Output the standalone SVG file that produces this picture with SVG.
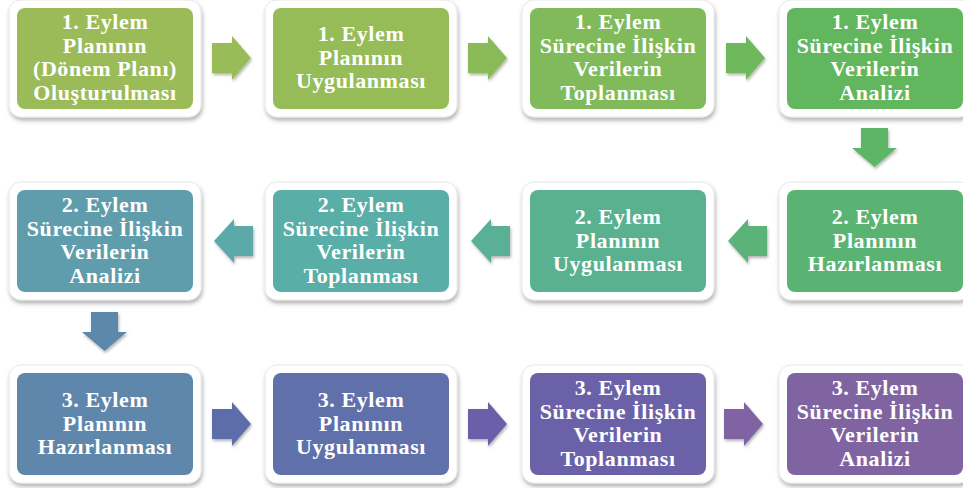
<svg xmlns="http://www.w3.org/2000/svg" width="963" height="488" viewBox="0 0 963 488">
<defs>
<filter id="sh" x="-10%" y="-10%" width="125%" height="130%">
<feDropShadow dx="1" dy="3" stdDeviation="2" flood-color="#000" flood-opacity="0.3"/>
</filter>
<filter id="ash" x="-20%" y="-20%" width="150%" height="150%">
<feDropShadow dx="1" dy="2" stdDeviation="1.5" flood-color="#000" flood-opacity="0.3"/>
</filter>
</defs>
<style>
.outer{fill:#fff;stroke:#e8e8e8;stroke-width:1;filter:url(#sh)}
.t{font-family:"Liberation Serif","Times New Roman",serif;font-weight:bold;font-size:22px;fill:#fff;text-anchor:middle;letter-spacing:0.6px}
.ar{filter:url(#ash)}
</style>
<rect width="963" height="488" fill="#fff"/>

<g id="connectors">
<path class="ar" fill="#99BB58" d="M212,43 h20 v-7 l19,22 l-19,22 v-7 h-20 z"/>
<path class="ar" fill="#8BBB58" d="M468,43 h20 v-7 l19,22 l-19,22 v-7 h-20 z"/>
<path class="ar" fill="#6EB95C" d="M726,43 h20 v-7 l19,22 l-19,22 v-7 h-20 z"/>
<path class="ar" fill="#5DB566" d="M861,128 h27 v20 h9 l-22.5,19 l-22.5,-19 h9 z"/>
<path class="ar" fill="#5BB37A" d="M767,226 h-19 v-7 l-20,22 l20,22 v-7 h19 z"/>
<path class="ar" fill="#5AB095" d="M510,226 h-19 v-7 l-20,22 l20,22 v-7 h19 z"/>
<path class="ar" fill="#5CA9AA" d="M253,226 h-19 v-7 l-20,22 l20,22 v-7 h19 z"/>
<path class="ar" fill="#5B88AB" d="M91,312 h27 v20 h9 l-22.5,19 l-22.5,-19 h9 z"/>
<path class="ar" fill="#5C6DAA" d="M212,409 h20 v-7 l19,22 l-19,22 v-7 h-20 z"/>
<path class="ar" fill="#6A5FA8" d="M468,409 h20 v-7 l19,22 l-19,22 v-7 h-20 z"/>
<path class="ar" fill="#7F64A2" d="M724,409 h20 v-7 l19,22 l-19,22 v-7 h-20 z"/>
</g>

<g id="n1"><rect class="outer" x="9" y="0" width="192" height="117" rx="12"/><rect x="17" y="8" width="176" height="101" rx="8" fill="#9BBB59"/>
<text class="t"><tspan x="105" y="29">1. Eylem</tspan><tspan x="105" y="52.5">Planının</tspan><tspan x="105" y="76">(Dönem Planı)</tspan><tspan x="105" y="99.5">Oluşturulması</tspan></text></g>

<g id="n2"><rect class="outer" x="265" y="0" width="192" height="117" rx="12"/><rect x="273" y="8" width="176" height="101" rx="8" fill="#95BC57"/>
<text class="t"><tspan x="361" y="41">1. Eylem</tspan><tspan x="361" y="64.5">Planının</tspan><tspan x="361" y="88">Uygulanması</tspan></text></g>

<g id="n3"><rect class="outer" x="522" y="0" width="192" height="117" rx="12"/><rect x="530" y="8" width="176" height="101" rx="8" fill="#80BA5A"/>
<text class="t"><tspan x="618" y="29">1. Eylem</tspan><tspan x="618" y="52.5">Sürecine İlişkin</tspan><tspan x="618" y="76">Verilerin</tspan><tspan x="618" y="99.5">Toplanması</tspan></text></g>

<g id="n4"><rect class="outer" x="779" y="0" width="192" height="117" rx="12"/><rect x="787" y="8" width="176" height="101" rx="8" fill="#62B65E"/>
<text class="t"><tspan x="875" y="29">1. Eylem</tspan><tspan x="875" y="52.5">Sürecine İlişkin</tspan><tspan x="875" y="76">Verilerin</tspan><tspan x="875" y="99.5">Analizi</tspan></text></g>

<g id="n5"><rect class="outer" x="779" y="182" width="192" height="118" rx="12"/><rect x="787" y="190" width="176" height="102" rx="8" fill="#5BB373"/>
<text class="t"><tspan x="875" y="224">2. Eylem</tspan><tspan x="875" y="247.5">Planının</tspan><tspan x="875" y="271">Hazırlanması</tspan></text></g>

<g id="n6"><rect class="outer" x="522" y="182" width="192" height="118" rx="12"/><rect x="530" y="190" width="176" height="102" rx="8" fill="#5AB190"/>
<text class="t"><tspan x="618" y="224">2. Eylem</tspan><tspan x="618" y="247.5">Planının</tspan><tspan x="618" y="271">Uygulanması</tspan></text></g>

<g id="n7"><rect class="outer" x="265" y="182" width="192" height="118" rx="12"/><rect x="273" y="190" width="176" height="102" rx="8" fill="#5AAEA8"/>
<text class="t"><tspan x="361" y="212">2. Eylem</tspan><tspan x="361" y="235.5">Sürecine İlişkin</tspan><tspan x="361" y="259">Verilerin</tspan><tspan x="361" y="282.5">Toplanması</tspan></text></g>

<g id="n8"><rect class="outer" x="9" y="182" width="192" height="118" rx="12"/><rect x="17" y="190" width="176" height="102" rx="8" fill="#5F9DAC"/>
<text class="t"><tspan x="105" y="212">2. Eylem</tspan><tspan x="105" y="235.5">Sürecine İlişkin</tspan><tspan x="105" y="259">Verilerin</tspan><tspan x="105" y="282.5">Analizi</tspan></text></g>

<g id="n9"><rect class="outer" x="9" y="365" width="192" height="118" rx="12"/><rect x="17" y="373" width="176" height="102" rx="8" fill="#5F87AC"/>
<text class="t"><tspan x="105" y="407">3. Eylem</tspan><tspan x="105" y="430.5">Planının</tspan><tspan x="105" y="454">Hazırlanması</tspan></text></g>

<g id="n10"><rect class="outer" x="265" y="365" width="192" height="118" rx="12"/><rect x="273" y="373" width="176" height="102" rx="8" fill="#5F70AB"/>
<text class="t"><tspan x="361" y="407">3. Eylem</tspan><tspan x="361" y="430.5">Planının</tspan><tspan x="361" y="454">Uygulanması</tspan></text></g>

<g id="n11"><rect class="outer" x="522" y="365" width="192" height="118" rx="12"/><rect x="530" y="373" width="176" height="102" rx="8" fill="#6B61A8"/>
<text class="t"><tspan x="618" y="395">3. Eylem</tspan><tspan x="618" y="418.5">Sürecine İlişkin</tspan><tspan x="618" y="442">Verilerin</tspan><tspan x="618" y="465.5">Toplanması</tspan></text></g>

<g id="n12"><rect class="outer" x="779" y="365" width="192" height="118" rx="12"/><rect x="787" y="373" width="176" height="102" rx="8" fill="#8064A2"/>
<text class="t"><tspan x="875" y="395">3. Eylem</tspan><tspan x="875" y="418.5">Sürecine İlişkin</tspan><tspan x="875" y="442">Verilerin</tspan><tspan x="875" y="465.5">Analizi</tspan></text></g>
</svg>
